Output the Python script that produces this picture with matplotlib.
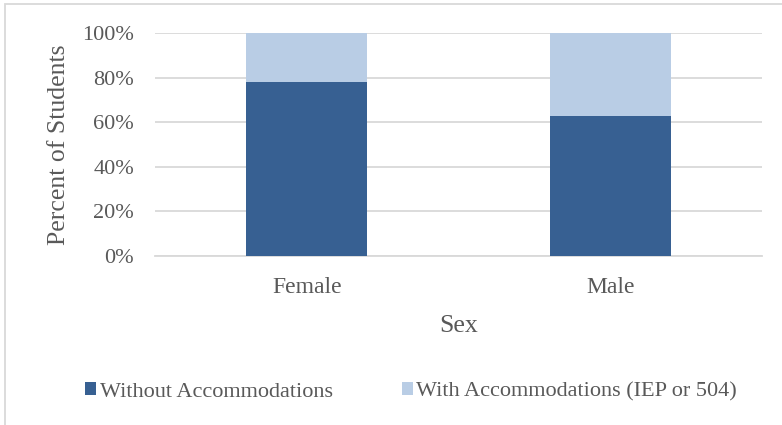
import numpy as np
import matplotlib.pyplot as plt
from matplotlib.patches import Rectangle

plt.rcParams['font.family'] = ['Liberation Serif', 'DejaVu Serif']

categories = ['Female', 'Male']
without_acc = [0.78, 0.63]
with_acc = [0.22, 0.37]
series_names = ['Without Accommodations', 'With Accommodations (IEP or 504)']
yticks = [0, 0.2, 0.4, 0.6, 0.8, 1.0]
ytick_labels = ['0%', '20%', '40%', '60%', '80%', '100%']

dark = '#376092'
light = '#b9cde5'
text_col = '#595959'
grid_col = '#d9d9d9'

W, H = 782, 425
fig = plt.figure(figsize=(W / 100, H / 100), dpi=100)
ax = fig.add_axes([155 / W, 169 / H, 607 / W, 223 / H])

x = np.arange(len(categories))
ax.bar(x, without_acc, width=0.4, color=dark, label=series_names[0],
       zorder=3)
ax.bar(x, with_acc, width=0.4, bottom=without_acc, color=light,
       label=series_names[1], zorder=3)

ax.set_xlim(-0.5, len(categories) - 0.5)
ax.set_ylim(0, 1)
ax.set_yticks(yticks)
ax.set_yticklabels(ytick_labels)
ax.set_xticks(x)
ax.set_xticklabels(categories)
ax.tick_params(axis='y', length=0, labelsize=16, colors=text_col, pad=15)
ax.tick_params(axis='x', length=0, labelsize=17, colors=text_col, pad=15)
ax.grid(axis='y', color=grid_col, linewidth=1.3, zorder=0)
for s in ['top', 'right', 'left']:
    ax.spines[s].set_visible(False)
ax.spines['bottom'].set_color(grid_col)
ax.spines['bottom'].set_linewidth(1.3)

ax.set_ylabel('Percent of Students', fontsize=18.5, color=text_col,
              labelpad=9)
ax.set_xlabel('Sex', fontsize=18.5, color=text_col, labelpad=12)

fig.legend(loc='center', bbox_to_anchor=(411 / W, 33 / H), ncol=2,
           frameon=False, fontsize=16, labelcolor=text_col,
           handlelength=0.5, handleheight=0.5, handletextpad=0.15,
           columnspacing=3.1)

fig.patches.append(Rectangle((5 / W, -0.1), 1.2, (H - 4) / H + 0.1,
                             transform=fig.transFigure, fill=False,
                             edgecolor=grid_col, linewidth=1.3))

fig.savefig('out.png', dpi=100)
